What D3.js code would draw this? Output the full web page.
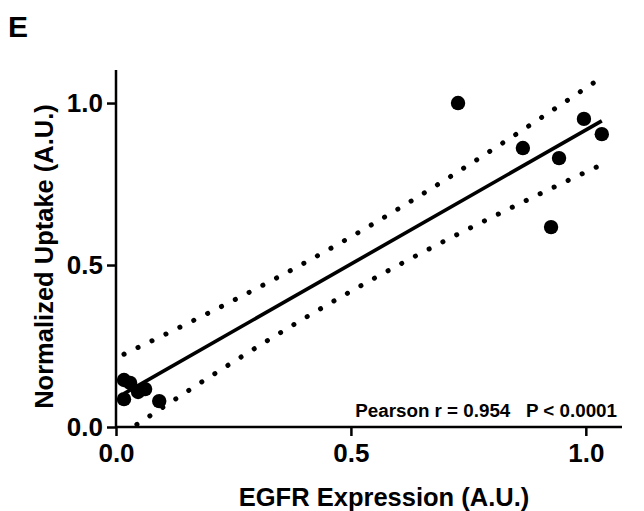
<!DOCTYPE html>
<html>
<head>
<meta charset="utf-8">
<script src="https://cdn.jsdelivr.net/npm/d3@7"></script>
<style>
  html, body { margin: 0; padding: 0; background: #fff; }
  svg { display: block; font-family: "Liberation Sans", Arial, Helvetica, sans-serif; }
</style>
</head>
<body>
<svg id="chart" width="644" height="511"></svg>
<script>
// ---- data ----
const egfrExpression = [0.017, 0.017, 0.030, 0.047, 0.062, 0.092, 0.728, 0.866, 0.926, 0.943, 0.996, 1.034];
const normalizedUptake = [0.086, 0.145, 0.136, 0.108, 0.117, 0.080, 1.000, 0.861, 0.617, 0.830, 0.951, 0.904];
const xTicks = [0.0, 0.5, 1.0];
const yTicks = [0.0, 0.5, 1.0];
const xDomain = [0, 1.077];
const yDomain = [0, 1.102];
const panelLabel = "E";
const xTitle = "EGFR Expression (A.U.)";
const yTitle = "Normalized Uptake (A.U.)";
const statsText = ["Pearson r = 0.954", "P < 0.0001"];
const tCrit = 2.228; // t(0.975, df = 10)

// ---- layout ----
const svg = d3.select("#chart");
const mLeft = 116, mRight = 622, mTop = 70, mBottom = 427;
const x = d3.scaleLinear().domain(xDomain).range([mLeft, mRight]);
const y = d3.scaleLinear().domain(yDomain).range([mBottom, mTop]);

// ---- regression & 95% confidence band ----
const pts = egfrExpression.map((v, i) => ({ x: v, y: normalizedUptake[i] }));
const n = pts.length;
const mx = d3.mean(pts, d => d.x), my = d3.mean(pts, d => d.y);
const sxx = d3.sum(pts, d => (d.x - mx) ** 2);
const sxy = d3.sum(pts, d => (d.x - mx) * (d.y - my));
const slope = sxy / sxx, intercept = my - slope * mx;
const sse = d3.sum(pts, d => (d.y - (intercept + slope * d.x)) ** 2);
const s = Math.sqrt(sse / (n - 2));
const [xmin, xmax] = d3.extent(pts, d => d.x);
const xs = d3.range(0, 101).map(i => xmin + (xmax - xmin) * i / 100);
const band = xs.map(xv => {
  const fit = intercept + slope * xv;
  const half = tCrit * s * Math.sqrt(1 / n + (xv - mx) ** 2 / sxx);
  return { x: xv, fit, lo: fit - half, hi: fit + half };
});

svg.append("defs").append("clipPath").attr("id", "plotClip")
  .append("rect").attr("x", mLeft).attr("y", 0).attr("width", 644 - mLeft).attr("height", mBottom);

const lineGen = key => d3.line().x(d => x(d.x)).y(d => y(d[key])).curve(d3.curveLinear);

const g = svg.append("g").attr("clip-path", "url(#plotClip)");
["hi", "lo"].forEach(k => {
  g.append("path").datum(band)
    .attr("d", lineGen(k))
    .attr("fill", "none").attr("stroke", "#000")
    .attr("stroke-width", 5).attr("stroke-linecap", "round")
    .attr("stroke-dasharray", "0.1 15.4");
});
svg.append("path").datum([band[0], band[band.length - 1]])
  .attr("d", lineGen("fit"))
  .attr("fill", "none").attr("stroke", "#000").attr("stroke-width", 3.6);

// ---- points ----
svg.append("g").selectAll("circle").data(pts).join("circle")
  .attr("cx", d => x(d.x)).attr("cy", d => y(d.y)).attr("r", 7.2).attr("fill", "#000");

// ---- axes ----
const xAxis = d3.axisBottom(x).tickValues(xTicks).tickFormat(d3.format(".1f")).tickSize(9).tickPadding(8);
const yAxis = d3.axisLeft(y).tickValues(yTicks).tickFormat(d3.format(".1f")).tickSize(9).tickPadding(4);

const gx = svg.append("g").attr("transform", `translate(0,${mBottom})`).call(xAxis);
const gy = svg.append("g").attr("transform", `translate(${mLeft},0)`).call(yAxis);
[gx, gy].forEach(a => {
  a.select(".domain").attr("stroke", "#000").attr("stroke-width", 2.5);
  a.selectAll(".tick line").attr("stroke", "#000").attr("stroke-width", 2.5);
  a.selectAll(".tick text").attr("fill", "#000").attr("font-size", 26).attr("font-weight", "bold")
    .attr("font-family", "'Liberation Sans', Arial, sans-serif");
});
gx.select(".domain").attr("d", `M${mLeft},0H${mRight}`);
gy.select(".domain").attr("d", `M0,${mBottom}V${mTop}`);

// ---- titles ----
svg.append("text").attr("x", 8).attr("y", 37).attr("font-size", 30).attr("font-weight", "bold").text(panelLabel);
svg.append("text").attr("x", 384).attr("y", 506).attr("text-anchor", "middle")
  .attr("font-size", 25.5).attr("font-weight", "bold").text(xTitle);
svg.append("text").attr("transform", `translate(53,${(mTop + mBottom) / 2 + 8}) rotate(-90)`).attr("text-anchor", "middle")
  .attr("font-size", 25.5).attr("font-weight", "bold").text(yTitle);

// ---- stats ----
svg.append("text").attr("x", 617).attr("y", 417).attr("text-anchor", "end")
  .attr("font-size", 18.8).attr("font-weight", "bold").attr("xml:space", "preserve")
  .text(statsText.join("   "));
</script>
</body>
</html>
